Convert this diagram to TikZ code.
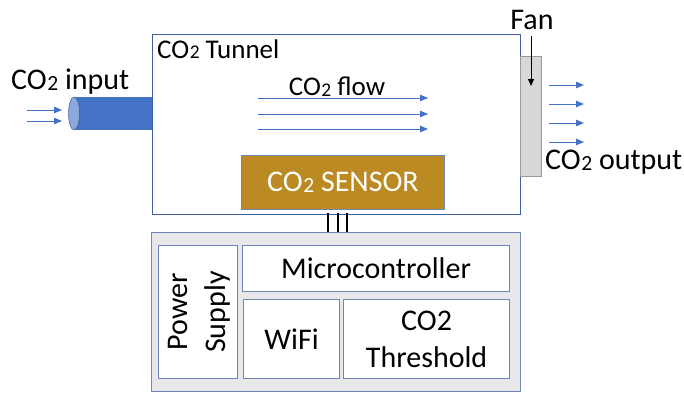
\documentclass[tikz,border=0pt]{standalone}
\usepackage{fontspec}
\setmainfont{Carlito}
\usetikzlibrary{arrows.meta,shapes.geometric}
\definecolor{frameblue}{RGB}{64,96,160}
\definecolor{boxedge}{RGB}{110,135,180}
\definecolor{flowblue}{RGB}{68,114,196}
\definecolor{pipeend}{RGB}{140,168,220}
\definecolor{sensorgold}{RGB}{187,138,34}
\definecolor{panelgray}{RGB}{232,232,234}
\definecolor{fangray}{RGB}{216,216,216}
\newcommand\cotwo{CO\kern0.02em\raisebox{-0.05ex}{\scalebox{0.72}{2}}}
\tikzset{
  lbl/.style={inner sep=0pt, font=\fontsize{30}{34}\selectfont},
  smalllbl/.style={inner sep=0pt, font=\fontsize{27}{30}\selectfont},
  part/.style={draw=boxedge, line width=1.2pt, fill=white, inner sep=0pt},
  flow/.style={draw=flowblue, line width=0.8pt, -{Triangle[length=8pt,width=6.5pt]}},
}
\begin{document}
\begin{tikzpicture}[x=1pt,y=-1pt]
\useasboundingbox (0,0) rectangle (684,392);

% tunnel
\node[draw=frameblue, line width=1.2pt, minimum width=368pt, minimum height=180pt, anchor=north west, inner sep=0pt] (tunnel) at (152,34) {};
\node[smalllbl, anchor=west] (tunnellbl) at (157,49) {\cotwo\ Tunnel};

% inlet pipe
\fill[flowblue] (74,97) rectangle (152,130);
\node[draw=flowblue!80!black, line width=0.5pt, fill=pipeend, ellipse, minimum width=11pt, minimum height=33pt, inner sep=0pt] (pipeend) at (74,113.5) {};
\node[lbl, anchor=west] (inlbl) at (11,82) {\cotwo\ input};
\coordinate (in1s) at (27,110); \coordinate (in1e) at (62,110);
\coordinate (in2s) at (27,121); \coordinate (in2e) at (62,121);
\draw[flow] (in1s) -- (in1e);
\draw[flow] (in2s) -- (in2e);

% flow inside the tunnel
\node[smalllbl] (flowlbl) at (337,87) {\cotwo\ flow};
\coordinate (f1s) at (258,98);  \coordinate (f1e) at (428,98);
\coordinate (f2s) at (258,114); \coordinate (f2e) at (428,114);
\coordinate (f3s) at (258,129); \coordinate (f3e) at (428,129);
\draw[flow] (f1s) -- (f1e);
\draw[flow] (f2s) -- (f2e);
\draw[flow] (f3s) -- (f3e);

% sensor
\node[draw=boxedge, line width=0.8pt, fill=sensorgold, minimum width=203pt, minimum height=54pt, anchor=north west, inner sep=0pt] (sensor) at (241,155) {};
\node[lbl, text=white] (sensorlbl) at (sensor.center) {\cotwo\ SENSOR};

% fan and outlet
\node[draw=gray!80, line width=0.8pt, fill=fangray, minimum width=21pt, minimum height=120pt, anchor=north west, inner sep=0pt] (fan) at (520,56) {};
\node[lbl] (fanlbl) at (532,20) {Fan};
\coordinate (fantop) at (531,36);
\coordinate (fanarrow) at (531,86);
\draw[line width=0.8pt, -{Triangle[length=7pt,width=6pt]}] (fantop) -- (fanarrow);
\coordinate (o1s) at (549,85);  \coordinate (o1e) at (584,85);
\coordinate (o2s) at (549,104); \coordinate (o2e) at (584,104);
\coordinate (o3s) at (549,123); \coordinate (o3e) at (584,123);
\coordinate (o4s) at (549,142); \coordinate (o4e) at (584,142);
\draw[flow] (o1s) -- (o1e);
\draw[flow] (o2s) -- (o2e);
\draw[flow] (o3s) -- (o3e);
\draw[flow] (o4s) -- (o4e);
\node[lbl, anchor=west] (outlbl) at (545,162) {\cotwo\ output};

% control unit
\node[draw=boxedge, line width=1.2pt, fill=panelgray, minimum width=369pt, minimum height=159pt, anchor=north west, inner sep=0pt] (unit) at (151,232) {};
\foreach \x in {328,338,347}
  \draw[line width=1.2pt] (\x,213) -- (\x,232);

\node[part, minimum width=79pt, minimum height=133pt, anchor=north west] (power) at (158,245) {};
\node[lbl, rotate=90] (powerlbl1) at (178,312) {Power};
\node[lbl, rotate=90] (powerlbl2) at (217,312) {Supply};

\node[part, minimum width=267pt, minimum height=46pt, anchor=north west] (mcu) at (242,245) {};
\node[lbl] (mculbl) at (mcu.center) {Microcontroller};

\node[part, minimum width=96pt, minimum height=79pt, anchor=north west] (wifi) at (243,299) {};
\node[lbl] (wifilbl) at (wifi.center) {WiFi};

\node[part, minimum width=166pt, minimum height=79pt, anchor=north west] (thresh) at (343,299) {};
\node[lbl, align=center, font=\fontsize{30}{37}\selectfont] (threshlbl) at (thresh.center) {CO2\\Threshold};
\end{tikzpicture}
\end{document}
